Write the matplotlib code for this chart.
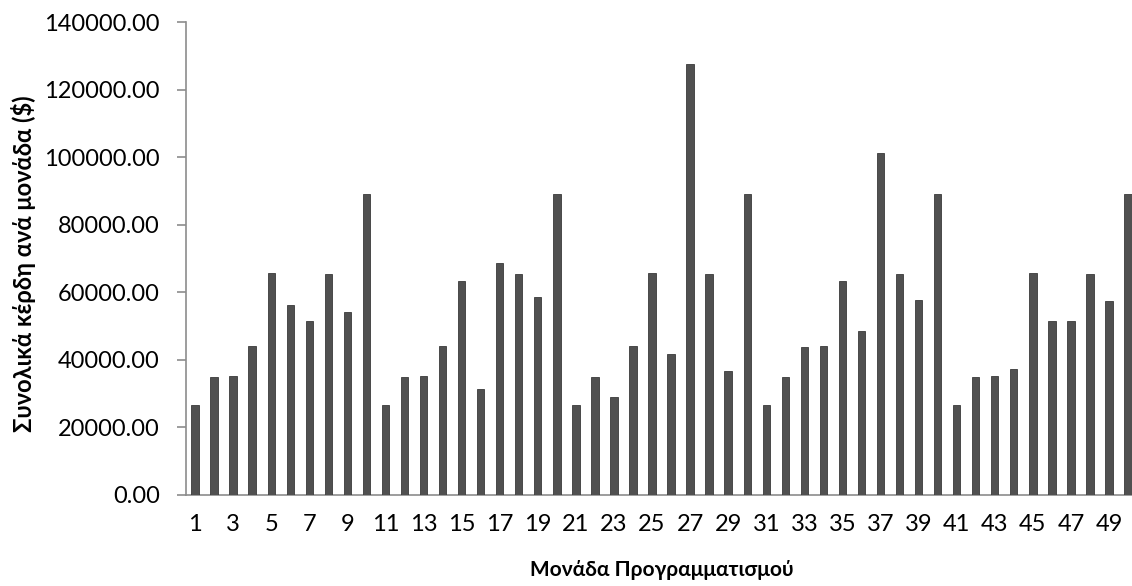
import matplotlib
matplotlib.use("Agg")
import matplotlib.pyplot as plt
import matplotlib.ticker as mticker

plt.rcParams['font.family'] = ['Lato', 'DejaVu Sans']

units = list(range(1, 51))
profits = [26600, 34950, 35350, 44000, 65850, 56400, 51650, 65450, 54300, 89050,
           26600, 34950, 35350, 44000, 63500, 31500, 68800, 65450, 58650, 89050,
           26600, 34950, 28900, 44000, 65850, 41750, 127550, 65450, 36800, 89050,
           26600, 34950, 43750, 44000, 63500, 48650, 101200, 65450, 57850, 89050,
           26600, 34950, 35350, 37200, 65850, 51650, 51650, 65450, 57450, 89050]
tick_labels = [str(u) for u in units[::2]]

fig = plt.figure(figsize=(11.32, 5.86), dpi=100)
ax = fig.add_axes([0.1639, 0.1553, 0.841, 0.8066])

ax.bar(units, profits, width=0.39, color='#505050', edgecolor='#3a3a3a', linewidth=0.6, zorder=3)

ax.set_xlim(0.5, 50.5)
ax.set_ylim(0, 140000)
ax.set_yticks(range(0, 140001, 20000))
ax.yaxis.set_major_formatter(mticker.FuncFormatter(lambda v, p: f"{v:.2f}"))
ax.set_xticks(units[::2])
ax.set_xticklabels(tick_labels)

for s in ['top', 'right']:
    ax.spines[s].set_visible(False)
for s in ['left', 'bottom']:
    ax.spines[s].set_color('#8c8c8c')
    ax.spines[s].set_linewidth(1.2)

ax.tick_params(axis='y', length=6.5, width=1.2, color='#8c8c8c', pad=12, labelsize=17)
ax.tick_params(axis='x', length=0, pad=14, labelsize=17)

ax.set_xlabel("Μονάδα Προγραμματισμού", fontsize=15, fontweight='bold')
ax.set_ylabel("Συνολικά κέρδη ανά μονάδα ($)", fontsize=17, fontweight='bold')
ax.xaxis.set_label_coords(0.5, -0.138)
ax.yaxis.set_label_coords(-0.157, 0.49)

fig.savefig("out.png", dpi=100)
